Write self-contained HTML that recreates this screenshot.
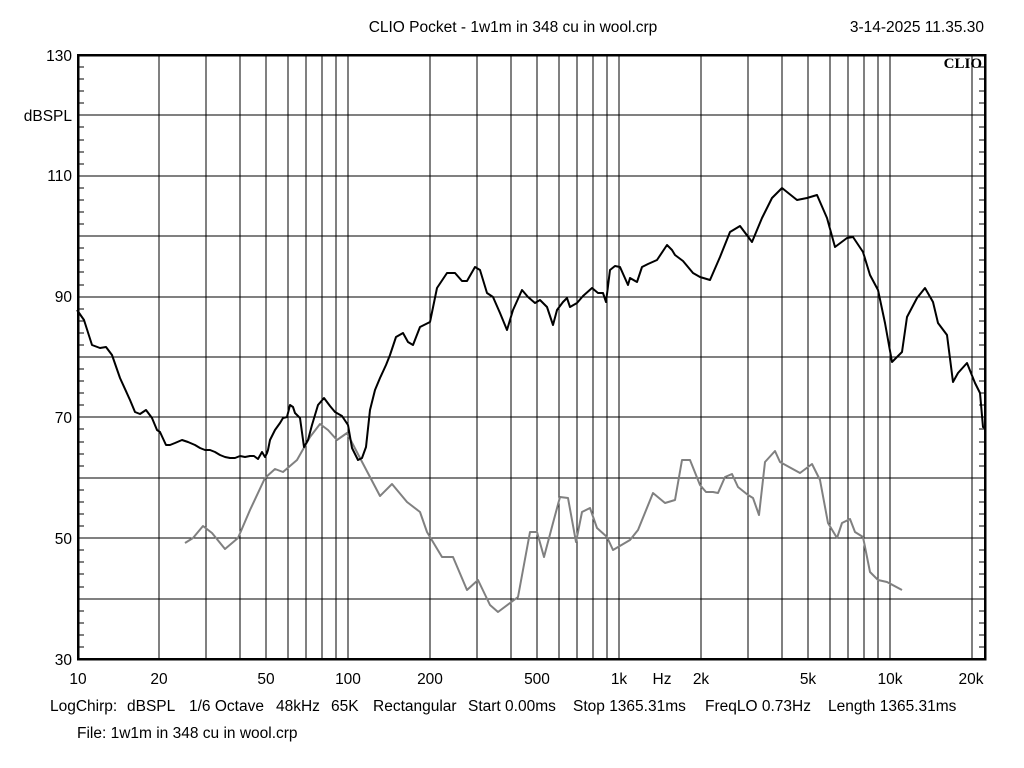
<!DOCTYPE html>
<html><head><meta charset="utf-8"><style>
html,body{margin:0;padding:0;background:#fff;}
svg{display:block;font-family:"Liberation Sans",Arial,sans-serif;}
</style></head><body>
<svg id="s" width="1024" height="768" viewBox="0 0 1024 768" xmlns="http://www.w3.org/2000/svg">
<rect width="1024" height="768" fill="#fff"/>
<g id="grid" stroke="#000" stroke-width="1" shape-rendering="crispEdges"></g>
<rect x="78" y="55" width="907" height="604" fill="none" stroke="#000" stroke-width="2.5" shape-rendering="crispEdges"/>
<text x="513" y="32" font-size="15.5" text-anchor="middle">CLIO Pocket - 1w1m in 348 cu in wool.crp</text>
<text x="984" y="32" font-size="15.5" text-anchor="end">3-14-2025 11.35.30</text>
<text x="982" y="68" font-size="15" font-weight="bold" font-family="Liberation Serif,serif" text-anchor="end">CLIO</text>
<g font-size="15.5" text-anchor="end">
<text x="72" y="61">130</text>
<text x="72" y="121">dBSPL</text>
<text x="72" y="181">110</text>
<text x="72" y="302">90</text>
<text x="72" y="423">70</text>
<text x="72" y="544">50</text>
<text x="72" y="665">30</text>
</g>
<g font-size="15.5" text-anchor="middle">
<text x="78" y="684">10</text>
<text x="159" y="684">20</text>
<text x="266" y="684">50</text>
<text x="348" y="684">100</text>
<text x="430" y="684">200</text>
<text x="537" y="684">500</text>
<text x="619" y="684">1k</text>
<text x="662" y="684">Hz</text>
<text x="701" y="684">2k</text>
<text x="808" y="684">5k</text>
<text x="890" y="684">10k</text>
<text x="971" y="684">20k</text>
</g>
<g font-size="15.5">
<text x="50" y="711">LogChirp:</text>
<text x="127" y="711">dBSPL</text>
<text x="189" y="711">1/6 Octave</text>
<text x="276" y="711">48kHz</text>
<text x="331" y="711">65K</text>
<text x="373" y="711">Rectangular</text>
<text x="468" y="711">Start 0.00ms</text>
<text x="573" y="711">Stop 1365.31ms</text>
<text x="705" y="711">FreqLO 0.73Hz</text>
<text x="828" y="711">Length 1365.31ms</text>
<text x="77" y="738">File: 1w1m in 348 cu in wool.crp</text>
</g>
<polyline fill="none" stroke="#808080" stroke-width="2" stroke-linejoin="round" points="185,543 193,538 203,526 212,533 225,549 238,538 250,510 265,478 275,469 283,472 297,460 310,437 320,424 328,430 337,440 347,433 360,458 370,477 380,496 392,484 407,502 420,512 427,532 442,557 453,557 467,590 478,580 490,605 498,612 510,603 518,597 530,532 537,532 544,557 553,523 560,497 568,498 576,542 582,512 590,508 597,528 607,537 613,550 630,540 638,530 653,493 665,503 675,500 682,460 690,460 700,485 706,492 713,492 718,493 725,477 732,474 738,487 748,495 753,498 759,515 765,462 775,451 780,462 800,473 812,464 820,480 828,523 837,538 842,523 850,519 855,532 863,537 870,572 878,580 887,582 902,590"/>
<polyline fill="none" stroke="#000" stroke-width="2" stroke-linejoin="round" points="77,310 84,320 92,345 100,348 106,347 112,355 120,378 130,400 135,412 140,414 146,410 152,418 157,430 160,432 166,445 170,445 175,443 182,440 188,442 195,445 200,448 205,450 210,450 215,452 220,455 225,457 230,458 235,458 240,456 245,457 250,456 254,456 258,459 262,452 265,457 267,453 268,450 270,440 275,430 280,423 283,418 287,417 290,405 293,407 295,413 300,418 304,447 308,440 312,425 318,405 324,398 330,406 335,412 342,416 348,425 352,448 358,460 362,458 366,447 370,410 375,390 380,378 386,365 390,355 396,337 403,333 408,342 413,345 420,327 430,322 437,288 447,273 455,273 462,281 467,281 475,267 480,270 487,293 493,297 500,313 507,330 513,310 522,290 528,297 535,303 540,300 547,307 553,325 557,310 563,302 567,298 570,307 577,303 583,296 592,288 598,293 603,293 606,302 610,270 615,266 620,267 628,285 630,278 637,282 642,267 648,264 657,260 667,245 672,250 675,255 683,261 688,267 693,273 700,277 710,280 720,257 730,232 740,226 752,242 762,218 772,198 782,188 797,200 807,198 817,195 827,218 835,247 847,238 853,237 863,252 870,275 878,290 885,323 892,362 902,352 907,317 917,298 925,288 933,302 938,323 947,335 953,382 958,373 967,363 975,383 980,393 983,427 985,428"/>
</svg>
<script>
(function(){
var g=document.getElementById('grid'),ns='http://www.w3.org/2000/svg';
function L(x1,y1,x2,y2){var l=document.createElementNS(ns,'line');l.setAttribute('x1',x1);l.setAttribute('y1',y1);l.setAttribute('x2',x2);l.setAttribute('y2',y2);g.appendChild(l);}
for(var d=10;d<=10000;d*=10){for(var m=1;m<10;m++){var f=d*m;if(f>20000)break;var x=Math.round(77+271*Math.log10(f/10));if(x>78&&x<985)L(x,55,x,659);}}
for(var v=30;v<=130;v+=10){var y=Math.round(659-(v-30)*6.04);L(78,y,985,y);}
for(var v=30;v<=130;v+=2){var y=Math.round(659-(v-30)*6.04);L(78,y,84,y);L(979,y,985,y);}
})();
</script>
</body></html>
